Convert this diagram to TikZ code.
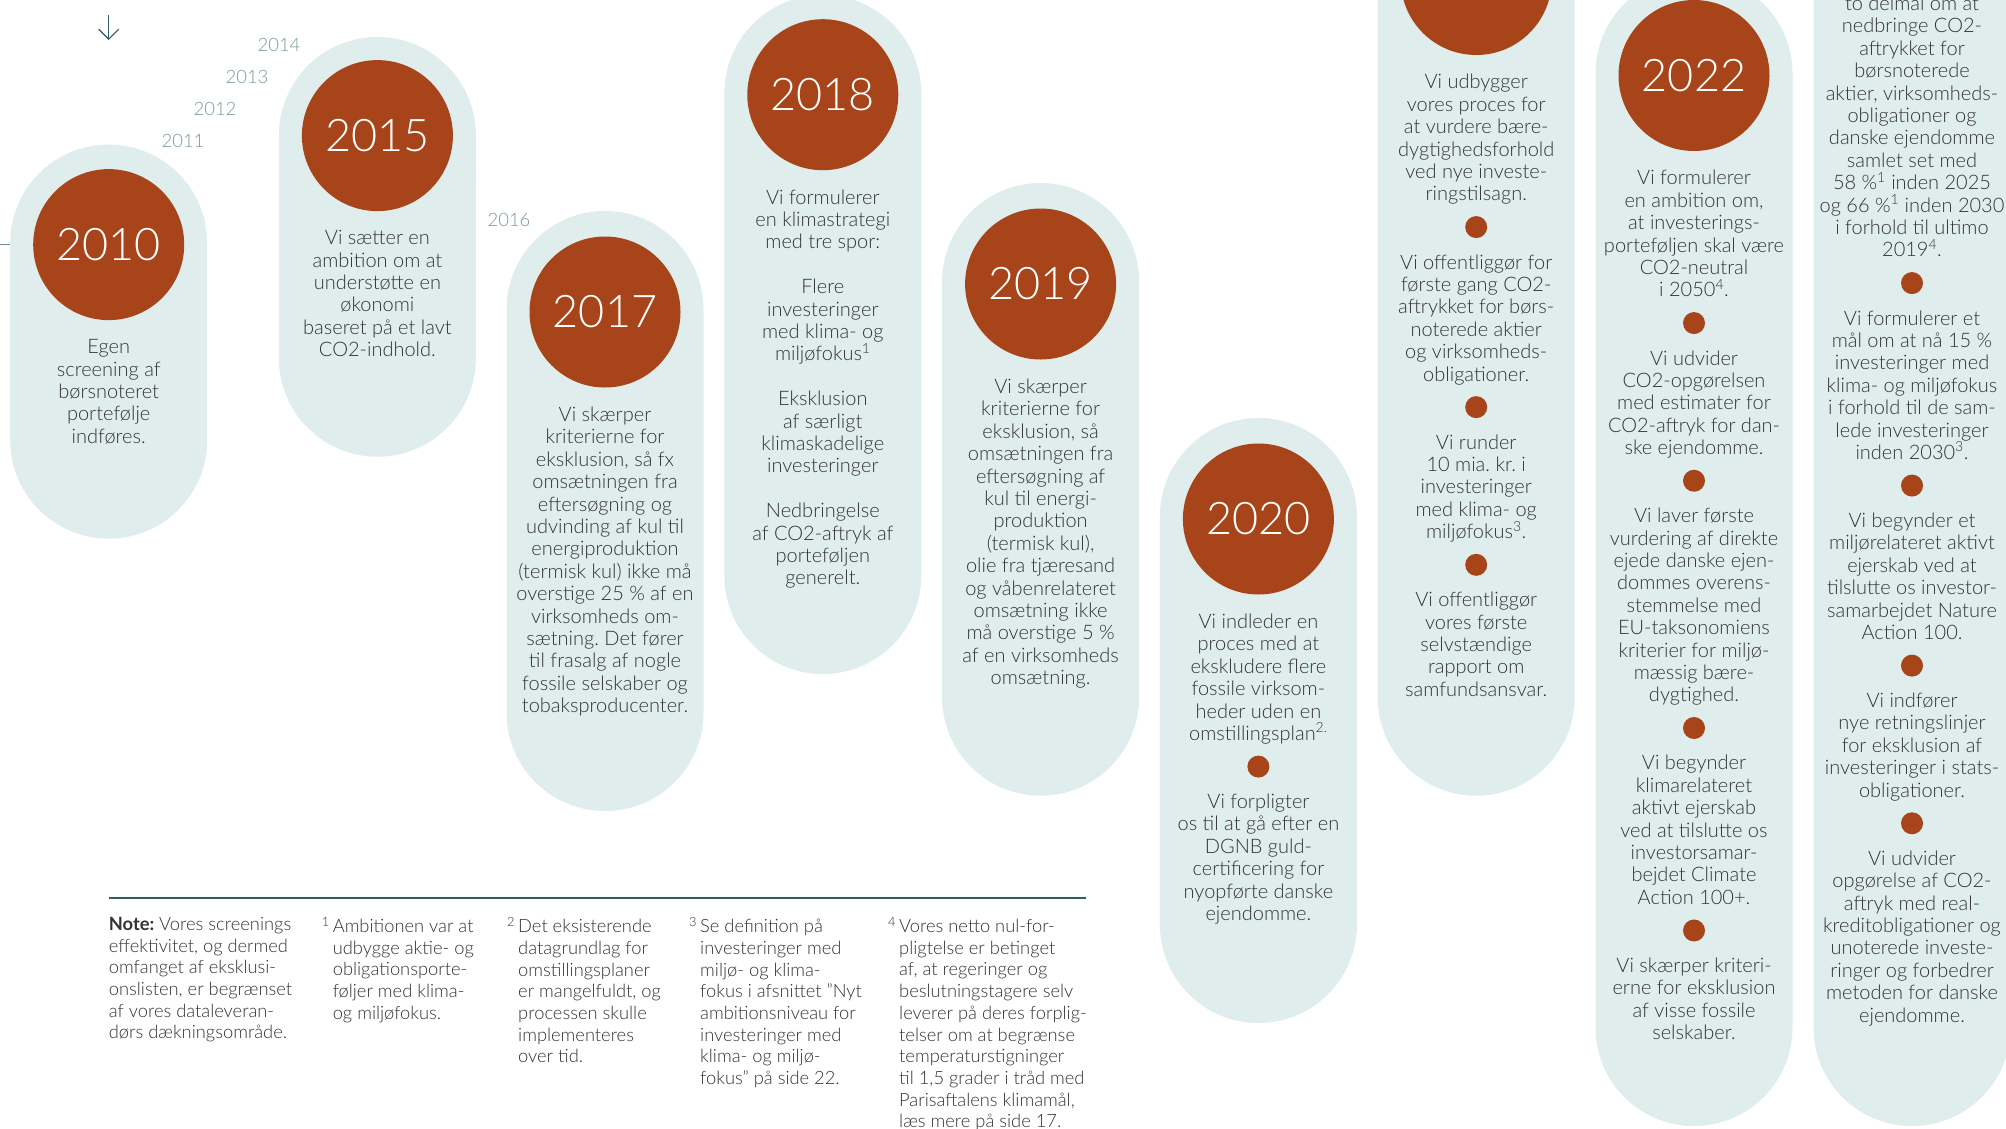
\documentclass[tikz,border=0pt]{standalone}
\usepackage{fontspec}
\setmainfont{Lato}
\IfFontExistsTF{Lato Light}{\newfontfamily\lightfont{Lato Light}}{\newcommand\lightfont{}}
\frenchspacing
\usetikzlibrary{arrows.meta,positioning}
\definecolor{pillbg}{HTML}{E0EDED}
\definecolor{rust}{HTML}{A8441A}
\definecolor{ink}{HTML}{333333}
\definecolor{yeargray}{HTML}{7D9898}
\definecolor{linecol}{HTML}{2D5F5F}

\begin{document}
\begin{tikzpicture}[x=1pt,y=-1pt,>=Stealth,
  yearc/.style={circle,fill=rust,minimum size=151pt,inner sep=0pt,text=white,font=\lightfont\fontsize{45}{50}\selectfont},
  txt/.style={align=center,text=ink,font=\lightfont\fontsize{20}{22.4}\selectfont,inner sep=0pt,
    execute at begin node=\strut,execute at end node=\strut},
  bullet/.style={circle,fill=rust,minimum size=22pt,inner sep=0pt},
  yearlbl/.style={text=yeargray,font=\lightfont\fontsize{18.5}{20}\selectfont,inner sep=0pt},
  fnote/.style={align=left,anchor=north west,text=ink,font=\lightfont\fontsize{18.3}{21.7}\selectfont,inner sep=0pt,
    execute at begin node=\strut},
  node distance=8pt]
\useasboundingbox (0,0) rectangle (2006,1128);
\fill[white] (0,0) rectangle (2006,1128);

% pills
\foreach \px/\ptop/\pbot in {108.7/144.6/538.6, 377.4/37/456.7, 605/211/811, 822.8/-5/674,
    1040.6/183/795.7, 1258.4/418/1023, 1476.2/-120/795.7, 1694/-25/1126, 1912/-400/1126}
  \fill[pillbg,rounded corners=98.5pt] (\px-98.5,\ptop) rectangle (\px+98.5,\pbot);

% small years
\foreach \i in {0,...,3}{
  \pgfmathtruncatemacro\yr{2011+\i}
  \node[yearlbl] (lbl\yr) at (183+32*\i,140.7-32*\i) {\yr};
}
\node[yearlbl] (lbl2016) at (509,220) {2016};

% arrow and timeline stub
\coordinate (arrtop) at (108.7,15);
\coordinate (arrbot) at (108.7,40);
\draw[linecol,line width=1.2pt,-{Straight Barb[width=20pt,length=10pt]}] (arrtop) -- (arrbot);
\coordinate (tl0) at (0,244.6);
\coordinate (tl1) at (10.2,244.6);
\draw[linecol!70,line width=1pt] (tl0) -- (tl1);

% 2010
\node[yearc] (c2010) at (108.7,244.6) {2010};
\node[txt,below=19pt of c2010] (t2010) {Egen\\screening af\\børsnoteret\\portefølje\\indføres.};

% 2015
\node[yearc] (c2015) at (377.4,135.6) {2015};
\node[txt,below=19pt of c2015] (t2015) {Vi sætter en\\ambition om at\\understøtte en\\økonomi\\baseret på et lavt\\CO2-indhold.};

% 2017
\node[yearc] (c2017) at (605,312) {2017};
\node[txt,below=19pt of c2017] (t2017) {Vi skærper\\kriterierne for\\eksklusion, så fx\\omsætningen fra\\eftersøgning og\\udvinding af kul til\\energiproduktion\\(termisk kul) ikke må\\overstige 25 \% af en\\virksomheds om-\\sætning. Det fører\\til frasalg af nogle\\fossile selskaber og\\tobaksproducenter.};

% 2018
\node[yearc] (c2018) at (822.8,94.7) {2018};
\node[txt,below=19pt of c2018] (t2018) {Vi formulerer\\en klimastrategi\\med tre spor:\\[22.4pt]Flere\\investeringer\\med klima- og\\miljøfokus\textsuperscript{1}\\[22.4pt]Eksklusion\\af særligt\\klimaskadelige\\investeringer\\[22.4pt]Nedbringelse\\af CO2-aftryk af\\porteføljen\\generelt.};

% 2019
\node[yearc] (c2019) at (1040.6,284) {2019};
\node[txt,below=19pt of c2019] (t2019) {Vi skærper\\kriterierne for\\eksklusion, så\\omsætningen fra\\eftersøgning af\\kul til energi-\\produktion\\(termisk kul),\\olie fra tjæresand\\og våbenrelateret\\omsætning ikke\\må overstige 5 \%\\af en virksomheds\\omsætning.};

% 2020
\node[yearc] (c2020) at (1258.4,519) {2020};
\node[txt,below=19pt of c2020] (t2020a) {Vi indleder en\\proces med at\\ekskludere flere\\fossile virksom-\\heder uden en\\omstillingsplan\textsuperscript{2.}};
\node[bullet,below=of t2020a] (d2020a) {};
\node[txt,below=16pt of d2020a] (t2020b) {Vi forpligter\\os til at gå efter en\\DGNB guld-\\certificering for\\nyopførte danske\\ejendomme.};

% 2021
\node[yearc] (c2021) at (1476.2,-20.5) {};
\node[txt,below=19pt of c2021] (t2021a) {Vi udbygger\\vores proces for\\at vurdere bære-\\dygtighedsforhold\\ved nye investe-\\ringstilsagn.};
\node[bullet,below=of t2021a] (d2021a) {};
\node[txt,below=16pt of d2021a] (t2021b) {Vi offentliggør for\\første gang CO2-\\aftrykket for børs-\\noterede aktier\\og virksomheds-\\obligationer.};
\node[bullet,below=of t2021b] (d2021b) {};
\node[txt,below=16pt of d2021b] (t2021c) {Vi runder\\10 mia. kr. i\\investeringer\\med klima- og\\miljøfokus\textsuperscript{3}.};
\node[bullet,below=of t2021c] (d2021c) {};
\node[txt,below=16pt of d2021c] (t2021d) {Vi offentliggør\\vores første\\selvstændige\\rapport om\\samfundsansvar.};

% 2022
\node[yearc] (c2022) at (1694,75.5) {2022};
\node[txt,below=19pt of c2022] (t2022a) {Vi formulerer\\en ambition om,\\at investerings-\\porteføljen skal være\\CO2-neutral\\i 2050\textsuperscript{4}.};
\node[bullet,below=of t2022a] (d2022a) {};
\node[txt,below=16pt of d2022a] (t2022b) {Vi udvider\\CO2-opgørelsen\\med estimater for\\CO2-aftryk for dan-\\ske ejendomme.};
\node[bullet,below=of t2022b] (d2022b) {};
\node[txt,below=16pt of d2022b] (t2022c) {Vi laver første\\vurdering af direkte\\ejede danske ejen-\\dommes overens-\\stemmelse med\\EU-taksonomiens\\kriterier for miljø-\\mæssig bære-\\dygtighed.};
\node[bullet,below=of t2022c] (d2022c) {};
\node[txt,below=16pt of d2022c] (t2022d) {Vi begynder\\klimarelateret\\aktivt ejerskab\\ved at tilslutte os\\investorsamar-\\bejdet Climate\\Action 100+.};
\node[bullet,below=of t2022d] (d2022d) {};
\node[txt,below=16pt of d2022d] (t2022e) {Vi skærper kriteri-\\erne for eksklusion\\af visse fossile\\selskaber.};

% 2023
\node[txt,anchor=north] (t2023a) at (1912,-4.3) {to delmål om at\\nedbringe CO2-\\aftrykket for\\børsnoterede\\aktier, virksomheds-\\obligationer og\\danske ejendomme\\samlet set med\\58 \%\textsuperscript{1} inden 2025\\og 66 \%\textsuperscript{1} inden 2030\\i forhold til ultimo\\2019\textsuperscript{4}.};
\node[bullet,below=of t2023a] (d2023a) {};
\node[txt,below=16pt of d2023a] (t2023b) {Vi formulerer et\\mål om at nå 15 \%\\investeringer med\\klima- og miljøfokus\\i forhold til de sam-\\lede investeringer\\inden 2030\textsuperscript{3}.};
\node[bullet,below=of t2023b] (d2023b) {};
\node[txt,below=16pt of d2023b] (t2023c) {Vi begynder et\\miljørelateret aktivt\\ejerskab ved at\\tilslutte os investor-\\samarbejdet Nature\\Action 100.};
\node[bullet,below=of t2023c] (d2023c) {};
\node[txt,below=16pt of d2023c] (t2023d) {Vi indfører\\nye retningslinjer\\for eksklusion af\\investeringer i stats-\\obligationer.};
\node[bullet,below=of t2023d] (d2023d) {};
\node[txt,below=16pt of d2023d] (t2023e) {Vi udvider\\opgørelse af CO2-\\aftryk med real-\\kreditobligationer og\\unoterede investe-\\ringer og forbedrer\\metoden for danske\\ejendomme.};

% notes
\coordinate (fl) at (108.7,898);
\coordinate (fr) at (1086,898);
\draw[linecol,line width=1.5pt] (fl) -- (fr);
\node[fnote] (n0) at (108.7,917) {{\normalfont\bfseries Note:} Vores screenings\\effektivitet, og dermed\\omfanget af eksklusi-\\onslisten, er begrænset\\af vores dataleveran-\\dørs dækningsområde.};
\node[fnote] (n1) at (332.6,917) {\llap{\textsuperscript{1}\,}Ambitionen var at\\udbygge aktie- og\\obligationsporte-\\føljer med klima-\\og miljøfokus.};
\node[fnote] (n2) at (518,917) {\llap{\textsuperscript{2}\,}Det eksisterende\\datagrundlag for\\omstillingsplaner\\er mangelfuldt, og\\processen skulle\\implementeres\\over tid.};
\node[fnote] (n3) at (700,917) {\llap{\textsuperscript{3}\,}Se definition på\\investeringer med\\miljø- og klima-\\fokus i afsnittet ”Nyt\\ambitionsniveau for\\investeringer med\\klima- og miljø-\\fokus” på side 22.};
\node[fnote] (n4) at (899,917) {\llap{\textsuperscript{4}\,}Vores netto nul-for-\\pligtelse er betinget\\af, at regeringer og\\beslutningstagere selv\\leverer på deres forplig-\\telser om at begrænse\\temperaturstigninger\\til 1,5 grader i tråd med\\Parisaftalens klimamål,\\læs mere på side 17.};
\end{tikzpicture}
\end{document}
